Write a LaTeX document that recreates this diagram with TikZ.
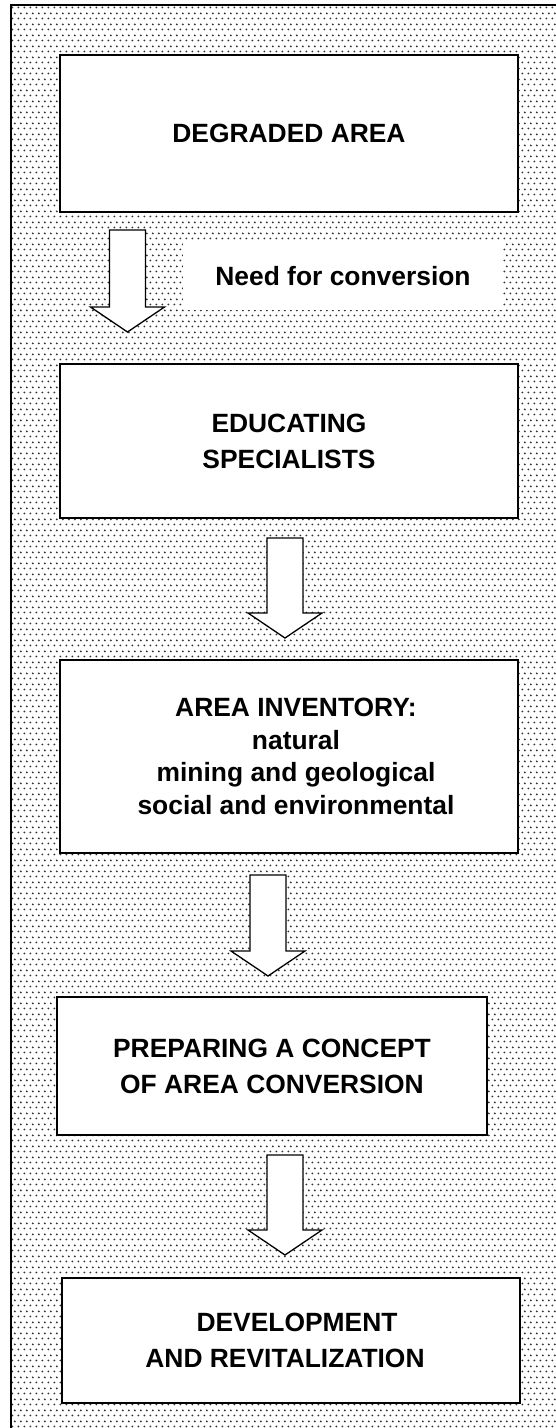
\documentclass[tikz,border=0pt]{standalone}
\usepackage{fontspec}
\setmainfont{Liberation Sans}
\usetikzlibrary{patterns, calc}

% dotted screen behind the flow
\pgfdeclarepatternformonly{speckle}{\pgfqpoint{0pt}{0pt}}{\pgfqpoint{5.5pt}{11pt}}{\pgfqpoint{5.5pt}{11pt}}{%
  \pgfpathcircle{\pgfqpoint{1.4pt}{2.75pt}}{1.1pt}%
  \pgfpathcircle{\pgfqpoint{4.15pt}{8.25pt}}{1.1pt}%
  \pgfusepath{fill}}

% hollow block arrow: #1 top of shaft, #2 tip
\newcommand{\hollowarrow}[2]{%
  \draw[blockarrow] ($(#1)+(-18,0)$) -- ($(#2)+(-18,-25)$) -- ($(#2)+(-37,-25)$)
    -- (#2) -- ($(#2)+(37,-25)$) -- ($(#2)+(18,-25)$) -- ($(#1)+(18,0)$) -- cycle;}

\begin{document}
\begin{tikzpicture}[x=1pt, y=-1pt,
    stage/.style={draw, line width=1.5pt, fill=white, minimum width=458pt, align=center,
      inner sep=0pt, font=\fontsize{26.4}{36}\selectfont\bfseries},
    tag/.style={fill=white, minimum width=320pt, minimum height=67pt, inner sep=0pt,
      font=\fontsize{26.4}{36}\selectfont\bfseries},
    blockarrow/.style={draw, line width=1.3pt, fill=white, line join=miter}]
    \useasboundingbox (0,0) rectangle (556,1428);
    \clip (0,0) rectangle (556,1428);
    \draw[line width=1.5pt, pattern=speckle, pattern color=black!80] (11,5) rectangle (580,1450);

    \node[stage, minimum height=157pt] (degraded) at (289,133.5) {DEGRADED AREA};
    \node[tag] (need) at (343,276.5) {Need for conversion};
    \node[stage, minimum height=154pt] (educating) at (289,441) {EDUCATING\\SPECIALISTS};
    \node[stage, minimum height=193pt, font=\fontsize{26.4}{32.5}\selectfont\bfseries] (inventory) at (289,756.5)
        {\hspace*{14pt}AREA INVENTORY:\\\hspace*{14pt}natural\\\hspace*{14pt}mining and geological\\\hspace*{14pt}social and environmental};
    \node[stage, minimum width=430pt, minimum height=138pt] (concept) at (272,1066)
        {PREPARING A CONCEPT\\OF AREA CONVERSION};
    \node[stage, minimum height=125pt] (revital) at (291,1340.5)
        {DEVELOPMENT\hspace*{-12pt}\\AND REVITALIZATION\hspace*{12pt}};

    \coordinate (a1top) at (127.5,230);
    \coordinate (a1tip) at (127.5,332);
    \coordinate (a2top) at (285,538);
    \coordinate (a2tip) at (285,638);
    \coordinate (a3top) at (268,875);
    \coordinate (a3tip) at (268,976);
    \coordinate (a4top) at (285,1155);
    \coordinate (a4tip) at (285,1255);

    \hollowarrow{a1top}{a1tip}
    \hollowarrow{a2top}{a2tip}
    \hollowarrow{a3top}{a3tip}
    \hollowarrow{a4top}{a4tip}
\end{tikzpicture}
\end{document}
